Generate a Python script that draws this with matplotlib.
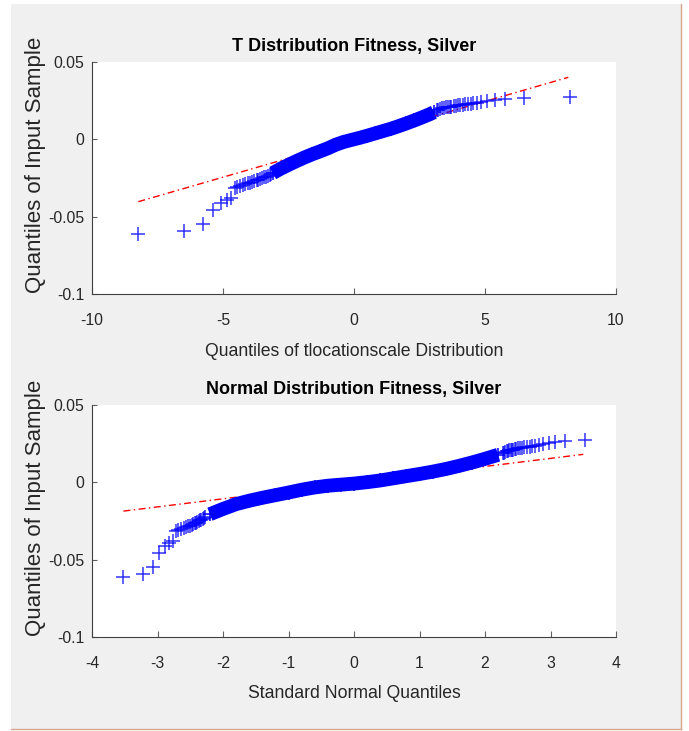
import matplotlib
matplotlib.use("Agg")
import matplotlib.pyplot as plt
from matplotlib.patches import Rectangle
from matplotlib.lines import Line2D

# ---------------- data ----------------
# sample quantiles shared by both plots (tails, sorted)
tail_low_y = [-0.0610, -0.0590, -0.0547, -0.0455, -0.0410, -0.0394, -0.0381, -0.0313,
              -0.0306, -0.0302, -0.0296, -0.0289, -0.0285, -0.0281, -0.0275, -0.0269,
              -0.0266, -0.0263, -0.0257, -0.0251, -0.0246, -0.0242, -0.0237, -0.0231, -0.0226]
tail_high_y = [0.0188, 0.0192, 0.0196, 0.0200, 0.0203, 0.0206, 0.0208, 0.0210, 0.0212,
               0.0215, 0.0218, 0.0221, 0.0223, 0.0225, 0.0227, 0.0229, 0.0231, 0.0233,
               0.0237, 0.0242, 0.0250, 0.0255, 0.0260, 0.0265, 0.0271]

# t location-scale theoretical quantiles for the tails
t_low_x = [-8.23, -6.49, -5.78, -5.37, -5.09, -4.86, -4.71, -4.54, -4.45, -4.35, -4.25,
           -4.16, -4.06, -3.97, -3.88, -3.80, -3.72, -3.65, -3.57, -3.50, -3.43, -3.36,
           -3.29, -3.22, -3.15]
t_high_x = [3.15, 3.22, 3.29, 3.36, 3.43, 3.50, 3.57, 3.65, 3.72, 3.80, 3.88, 3.97, 4.06,
            4.16, 4.25, 4.35, 4.45, 4.54, 4.71, 4.86, 5.09, 5.37, 5.78, 6.49, 8.23]
# standard normal theoretical quantiles for the tails
n_low_x = [-3.52, -3.22, -3.07, -2.97, -2.89, -2.82, -2.77, -2.72, -2.68, -2.64, -2.60,
           -2.57, -2.54, -2.51, -2.48, -2.46, -2.43, -2.41, -2.39, -2.37, -2.35, -2.33,
           -2.31, -2.29, -2.27]
n_high_x = [2.27, 2.29, 2.31, 2.33, 2.35, 2.37, 2.39, 2.41, 2.43, 2.46, 2.48, 2.51, 2.54,
            2.57, 2.60, 2.64, 2.68, 2.72, 2.77, 2.82, 2.89, 2.97, 3.07, 3.22, 3.52]

# dense central part of each QQ curve
t_mid_x = [-3.1, -2.8, -2.5, -2.2, -1.9, -1.6, -1.3, -1.0, -0.7, -0.4, -0.1, 0.2, 0.5,
           0.8, 1.1, 1.4, 1.7, 2.0, 2.3, 2.6, 2.9, 3.05]
t_mid_y = [-0.0218, -0.0190, -0.0165, -0.0141, -0.0118, -0.0097, -0.0078, -0.0058,
           -0.0035, -0.0017, -0.0004, 0.0009, 0.0023, 0.0038, 0.0053, 0.0068, 0.0085,
           0.0103, 0.0122, 0.0142, 0.0163, 0.0175]
n_mid_x = [-2.2, -2.0, -1.8, -1.6, -1.4, -1.2, -1.0, -0.8, -0.6, -0.4, -0.2, 0.0, 0.2,
           0.4, 0.6, 0.8, 1.0, 1.2, 1.4, 1.6, 1.8, 2.0, 2.2]
n_mid_y = [-0.0206, -0.0172, -0.0141, -0.0119, -0.0100, -0.0083, -0.0066, -0.0048,
           -0.0033, -0.0022, -0.0015, -0.0008, 0.0001, 0.0012, 0.0026, 0.0040, 0.0054,
           0.0069, 0.0086, 0.0106, 0.0128, 0.0152, 0.0178]

# reference lines
t_line_x = [-8.23, 8.18]
t_line_y = [-0.0403, 0.0401]
n_line_x = [-3.52, 3.50]
n_line_y = [-0.0186, 0.0181]

titles = ["T Distribution Fitness, Silver", "Normal Distribution Fitness, Silver"]
xlabels = ["Quantiles of tlocationscale Distribution", "Standard Normal Quantiles"]
ylabel = "Quantiles of Input Sample"
t_xticks = [-10, -5, 0, 5, 10]
n_xticks = [-4, -3, -2, -1, 0, 1, 2, 3, 4]
yticks = [-0.1, -0.05, 0, 0.05]
ytick_labels = ["-0.1", "-0.05", "0", "0.05"]

# ---------------- figure ----------------
W, H = 689, 731
fig = plt.figure(figsize=(W / 100, H / 100), dpi=100)
fig.patch.set_facecolor("white")
fig.patches.append(Rectangle((11 / W, 2 / H), 670 / W, 725 / H, transform=fig.transFigure,
                             facecolor="#f0f0f0", edgecolor="none", zorder=-10))
fig.lines.append(Line2D([681 / W, 681 / W], [2 / H, 727 / H], transform=fig.transFigure,
                        color="#d6a58c", lw=1.0, zorder=-5))
fig.lines.append(Line2D([11 / W, 681 / W], [2 / H, 2 / H], transform=fig.transFigure,
                        color="#d6a58c", lw=1.0, zorder=-5))

FONT = ["Liberation Sans", "DejaVu Sans"]
TXT = "#262626"

def make_axes(top_px, bottom_px):
    left, right = 92, 616
    return fig.add_axes([left / W, 1 - bottom_px / H, (right - left) / W,
                         (bottom_px - top_px) / H])

ax1 = make_axes(62, 294)
ax2 = make_axes(405, 637)

blue = (0, 0, 1)
ms = 10.5

panels = [
    (ax1, t_low_x, t_mid_x, t_mid_y, t_high_x, t_line_x, t_line_y, (-10, 10), t_xticks),
    (ax2, n_low_x, n_mid_x, n_mid_y, n_high_x, n_line_x, n_line_y, (-4, 4), n_xticks),
]

for i, (ax, lx, mx, my, hx, rlx, rly, xlim, xt) in enumerate(panels):
    ax.set_facecolor("white")
    # reference line (beneath the sample markers)
    ax.plot(rlx, rly, color="red", lw=1.0, linestyle=(0, (5, 2.5, 1, 2.5)), zorder=1)
    # dense band
    ax.plot(mx, my, "-", color=blue, lw=10, solid_capstyle="butt", zorder=2)
    ax.plot(mx, my, "+", color=blue, ms=ms, mew=1.1, zorder=3)
    # tails
    ax.plot(lx, tail_low_y, "+", color=blue, ms=ms, mew=1.1, alpha=0.8, zorder=3)
    ax.plot(hx, tail_high_y, "+", color=blue, ms=ms, mew=1.1, alpha=0.8, zorder=3)

    ax.set_xlim(*xlim)
    ax.set_ylim(-0.1, 0.05)
    ax.set_xticks(xt)
    ax.set_xticklabels([str(v) for v in xt])
    ax.set_yticks(yticks)
    ax.set_yticklabels(ytick_labels)
    for s in ["top", "right"]:
        ax.spines[s].set_visible(False)
    for s in ["left", "bottom"]:
        ax.spines[s].set_color("#404040")
        ax.spines[s].set_linewidth(0.8)
    ax.tick_params(axis="x", direction="in", length=4.5, width=0.8, color="#606060",
                   pad=14, labelsize=11.3, labelcolor=TXT)
    ax.tick_params(axis="y", direction="in", length=3.5, width=0.8, color="#606060",
                   pad=5.5, labelsize=11.3, labelcolor=TXT)
    for lab in ax.get_xticklabels() + ax.get_yticklabels():
        lab.set_family(FONT)

    ax.set_title(titles[i], fontsize=13, fontweight="bold", family=FONT, color="black",
                 pad=8)
    ax.set_xlabel(xlabels[i], fontsize=12.7, family=FONT, color=TXT)
    ax.xaxis.set_label_coords(0.5, -57 / 232)
    ax.xaxis.label.set_va("center")
    ax.set_ylabel(ylabel, fontsize=16, family=FONT, color=TXT)
    ax.yaxis.set_label_coords(-56 / 524, 0.556)
    ax.yaxis.label.set_va("center")

fig.savefig("out.png", dpi=100, facecolor=fig.get_facecolor())
